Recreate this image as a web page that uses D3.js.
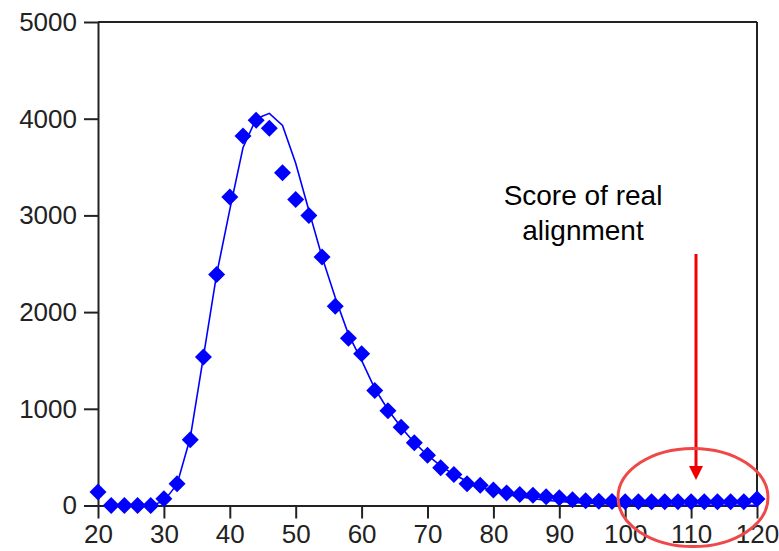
<!DOCTYPE html>
<html>
<head>
<meta charset="utf-8">
<script src="https://cdn.jsdelivr.net/npm/d3@7/dist/d3.min.js"></script>
<style>
  html, body { margin: 0; padding: 0; background: #fff; }
  svg { display: block; }
  text { font-family: "Liberation Sans", Arial, sans-serif; }
</style>
</head>
<body>
<svg id="chart" width="779" height="551"></svg>
<script>
// Observed score distribution (diamond markers)
const scores = [20,22,24,26,28,30,32,34,36,38,40,42,44,46,48,50,52,54,56,58,60,62,64,66,68,70,72,74,76,78,80,82,84,86,88,90,92,94,96,98,100,102,104,106,108,110,112,114,116,118,120];
const counts = [140,0,0,0,0,70,225,680,1535,2390,3190,3820,3985,3900,3440,3165,3000,2570,2060,1730,1570,1190,980,810,650,520,390,320,225,210,160,130,115,105,90,80,60,50,45,42,40,40,38,40,40,38,40,38,40,40,68];

// Fitted curve (line)
const fitScores = [28,30,32,34,36,38,40,42,44,46,48,50,52,54,56,58,60,62,64,66,68,70,72,74,76,78,80,82,84,86,88,90,92,94,96,98,100,104,108,112,116,120];
const fitValues = [0,45,220,700,1540,2390,3060,3700,4000,4055,3930,3540,3050,2570,2150,1770,1500,1210,990,810,650,520,410,320,250,195,150,115,90,70,55,42,32,25,19,15,11,7,5,3,2,1];

const xTicks = [20,30,40,50,60,70,80,90,100,110,120];
const yTicks = [0,1000,2000,3000,4000,5000];

const annotationLines = ["Score of real", "alignment"];

const svg = d3.select("#chart");
const x = d3.scaleLinear().domain([20,120]).range([98,757]);
const y = d3.scaleLinear().domain([0,5000]).range([505.5,22]);

const axisColor = "#222";

// frame (top & right)
svg.append("line").attr("x1", x(20)).attr("x2", x(120)).attr("y1", y(5000)).attr("y2", y(5000))
  .attr("stroke", axisColor).attr("stroke-width", 2);
svg.append("line").attr("x1", x(120)).attr("x2", x(120)).attr("y1", y(5000)).attr("y2", y(0))
  .attr("stroke", axisColor).attr("stroke-width", 2);

// axes
const gx = svg.append("g").attr("transform", `translate(0,${y(0)})`)
  .call(d3.axisBottom(x).tickValues(xTicks).tickFormat(d3.format("d")).tickSize(13).tickSizeOuter(0).tickPadding(6));
const gy = svg.append("g").attr("transform", `translate(${x(20)},0)`)
  .call(d3.axisLeft(y).tickValues(yTicks).tickFormat(d3.format("d")).tickSize(14).tickSizeOuter(0).tickPadding(7));

[gx, gy].forEach(g => {
  g.select(".domain").attr("stroke", axisColor).attr("stroke-width", 2);
  g.selectAll(".tick line").attr("stroke", axisColor).attr("stroke-width", 2);
  g.selectAll(".tick text").attr("fill", "#222").style("font-size", "26px")
    .style("font-family", "'Liberation Sans', Arial, sans-serif");
});

// fitted line
const line = d3.line().x((d,i) => x(fitScores[i])).y(d => y(d));
svg.append("path").datum(fitValues).attr("d", line)
  .attr("fill", "none").attr("stroke", "#0000ff").attr("stroke-width", 1.6);

// diamonds
const h = 8.5;
svg.append("g").selectAll("path").data(counts).join("path")
  .attr("transform", (d,i) => `translate(${x(scores[i])},${y(d)})`)
  .attr("d", `M0,${-h}L${h},0L0,${h}L${-h},0Z`)
  .attr("fill", "#0000ff");

// annotation text
svg.append("text").attr("x", 583).attr("y", 205).attr("text-anchor", "middle")
  .style("font-size", "28px").attr("fill", "#000").text(annotationLines[0]);
svg.append("text").attr("x", 583).attr("y", 240).attr("text-anchor", "middle")
  .style("font-size", "28px").attr("fill", "#000").text(annotationLines[1]);

// red arrow
svg.append("line").attr("x1", 696).attr("x2", 696).attr("y1", 254).attr("y2", 470)
  .attr("stroke", "#f00000").attr("stroke-width", 3);
svg.append("path").attr("d", "M689,466L703,466L696,480Z").attr("fill", "#f00000");

// ellipse
svg.append("ellipse").attr("cx", 693).attr("cy", 497.5).attr("rx", 75).attr("ry", 49)
  .attr("fill", "none").attr("stroke", "#f04848").attr("stroke-width", 3);
</script>
</body>
</html>
